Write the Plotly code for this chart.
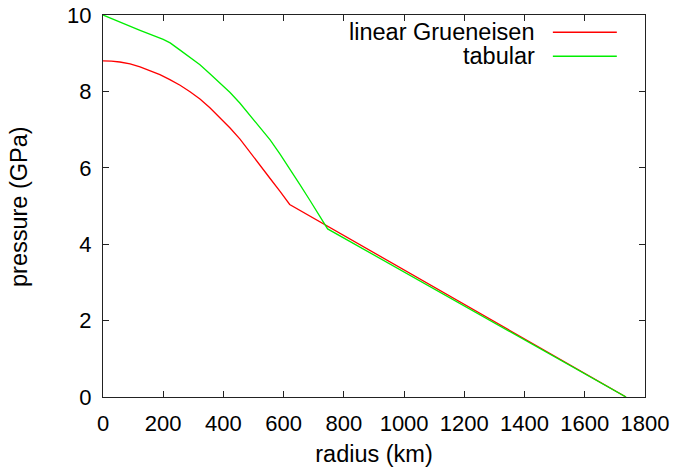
import plotly.graph_objects as go

# Data
radius_linear = [0, 28, 56, 90, 123, 156, 189, 222, 256, 289, 322, 355, 389, 422, 455,
                 488, 521, 555, 588, 620, 1737]
pressure_linear = [8.80, 8.795, 8.77, 8.72, 8.64, 8.55, 8.44, 8.31, 8.16, 7.99, 7.80, 7.57,
                   7.31, 7.04, 6.75, 6.42, 6.07, 5.72, 5.38, 5.04, 0.0]

radius_tabular = [0, 56, 123, 200, 223, 256, 289, 322, 355, 389, 422, 455, 488, 521, 555,
                  588, 621, 654, 687, 721, 746, 1737]
pressure_tabular = [10.0, 9.81, 9.60, 9.36, 9.27, 9.08, 8.90, 8.70, 8.46, 8.22, 7.97, 7.69,
                    7.38, 7.06, 6.73, 6.36, 5.97, 5.56, 5.15, 4.72, 4.40, 0.0]

series_names = ["linear Grueneisen", "tabular"]
series_colors = ["#ff0000", "#00ee00"]

x_ticks = [0, 200, 400, 600, 800, 1000, 1200, 1400, 1600, 1800]
y_ticks = [0, 2, 4, 6, 8, 10]

FONT = "Liberation Sans, Arial, sans-serif"
FS_TICK = 22
FS_TEXT = 23.5

fig = go.Figure()
fig.add_trace(go.Scatter(x=radius_linear, y=pressure_linear, mode="lines",
                         line=dict(color=series_colors[0], width=1.3),
                         name=series_names[0], showlegend=False))
fig.add_trace(go.Scatter(x=radius_tabular, y=pressure_tabular, mode="lines",
                         line=dict(color=series_colors[1], width=1.3),
                         name=series_names[1], showlegend=False))

axis_common = dict(showline=True, linecolor="#222222", linewidth=1.2, mirror="ticks",
                   ticks="inside", ticklen=6, tickcolor="#222222", tickwidth=1,
                   showgrid=False, zeroline=False, automargin=False,
                   ticklabeloverflow="allow",
                   tickfont=dict(family=FONT, size=FS_TICK, color="black"))

fig.update_xaxes(range=[0, 1800], tickvals=x_ticks, ticktext=[str(v) for v in x_ticks],
                 title=dict(text="radius (km)", font=dict(family=FONT, size=FS_TEXT, color="black"), standoff=11),
                 ticklabelstandoff=6, **axis_common)
fig.update_yaxes(range=[0, 10], tickvals=y_ticks, ticktext=[str(v) for v in y_ticks],
                 ticklabelstandoff=6, **axis_common)

# y-axis title placed as a rotated annotation
fig.add_annotation(x=-0.155, y=0.5, xref="paper", yref="paper", text="pressure (GPa)",
                   textangle=-90, showarrow=False, xanchor="center", yanchor="middle",
                   font=dict(family=FONT, size=FS_TEXT, color="black"))

# gnuplot-style key: text on left, line sample on right
legend_y = [0.955, 0.892]
for name, color, yy in zip(series_names, series_colors, legend_y):
    fig.add_annotation(x=0.8007, y=yy, xref="paper", yref="paper", text=name,
                       showarrow=False, xanchor="right", yanchor="middle",
                       font=dict(family=FONT, size=FS_TEXT, color="black"))
    fig.add_shape(type="line", xref="paper", yref="paper", x0=0.830, x1=0.948, y0=yy, y1=yy,
                  line=dict(color=color, width=1.5))

fig.update_layout(width=677, height=474, margin=dict(l=103, r=32, t=15, b=77),
                  plot_bgcolor="white", paper_bgcolor="white",
                  font=dict(family=FONT, size=FS_TICK, color="black"))

# remove the default page margin so the figure fills the window exactly
fig.write_html("out.html", config={"displayModeBar": False},
               post_script="document.body.style.margin='0';")
